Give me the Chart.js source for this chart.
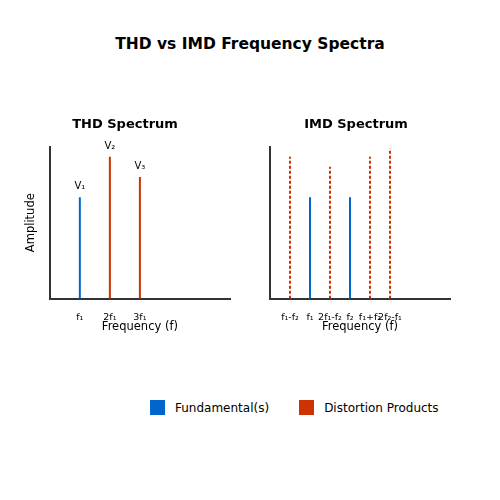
<!DOCTYPE html>
<html><head><meta charset="utf-8">
<script src="https://cdn.jsdelivr.net/npm/chart.js@4"></script>
<style>
body{margin:0;width:500px;height:500px;background:#fff;font-family:"DejaVu Sans",sans-serif;position:relative}
#title{position:absolute;top:35px;width:500px;text-align:center;font-weight:bold;font-size:15.5px}
.box{position:absolute;top:113px;width:225px;height:225px}
#legend{position:absolute;top:400px;left:150px;font-size:12px;display:flex;gap:30px}
#legend span.sw{display:inline-block;width:15px;height:15px;vertical-align:-3px;margin-right:10px}
</style></head><body>
<div id="title">THD vs IMD Frequency Spectra</div>
<div class="box" style="left:20px"><canvas id="thd"></canvas></div>
<div class="box" style="left:240px"><canvas id="imd"></canvas></div>
<div id="legend"><div><span class="sw" style="background:#0066cc"></span>Fundamental(s)</div><div><span class="sw" style="background:#cc3300"></span>Distortion Products</div></div>
<script>
const BLUE = '#0066cc', RED = '#cc3300';

const thdLabels = ['f₁', '2f₁', '3f₁'];
const thdPos = [1, 2, 3];
const thdValues = [0.667, 0.933, 0.8];
const thdAnnot = ['V₁', 'V₂', 'V₃'];
const thdFundamental = [true, false, false];

const imdLabels = ['f₁-f₂', 'f₁', '2f₁-f₂', 'f₂', 'f₁+f₂', '2f₂-f₁'];
const imdPos = [1, 2, 3, 4, 5, 6];
const imdValues = [0.933, 0.667, 0.867, 0.667, 0.933, 0.987];
const imdFundamental = [false, true, false, true, false, false];

const stemLabels = {
  id: 'stemLabels',
  afterDatasetsDraw(chart, args, opts) {
    if (!opts.texts) return;
    const { ctx } = chart;
    ctx.save();
    ctx.font = '10px "DejaVu Sans"';
    ctx.fillStyle = '#000';
    ctx.textAlign = 'center';
    opts.texts.forEach((t, i) => {
      const x = chart.scales.x.getPixelForValue(opts.pos[i]);
      const y = chart.scales.y.getPixelForValue(opts.values[i]);
      ctx.fillText(t, x, y - 8);
    });
    ctx.restore();
  }
};

function makeChart(id, title, labels, pos, values, fund, xmax, annot, showY, dashed) {
  const datasets = pos.map((p, i) => ({
    data: [{ x: p, y: 0 }, { x: p, y: values[i] }],
    borderColor: fund[i] ? BLUE : RED,
    borderWidth: 2,
    borderDash: (dashed && !fund[i]) ? [3, 2] : [],
    pointRadius: 0,
    showLine: true
  }));
  new Chart(document.getElementById(id), {
    type: 'scatter',
    data: { datasets },
    options: {
      animation: false,
      responsive: true,
      maintainAspectRatio: false,
      layout: { padding: { left: showY ? 0 : 22, right: 15 } },
      plugins: {
        legend: { display: false },
        tooltip: { enabled: false },
        title: { display: true, text: title, color: '#000', font: { size: 13, weight: 'bold', family: 'DejaVu Sans' }, padding: { top: 4, bottom: 14 } },
        stemLabels: annot ? { texts: annot, pos, values } : {}
      },
      scales: {
        x: {
          type: 'linear', min: 0, max: xmax,
          afterBuildTicks: s => { s.ticks = pos.map(v => ({ value: v })); },
          ticks: { autoSkip: false, maxRotation: 0, color: '#000', font: { size: 9.5, family: 'DejaVu Sans' }, padding: 5, callback: (v) => labels[pos.indexOf(v)] },
          grid: { display: false },
          border: { color: '#333', width: 2 },
          title: { display: true, text: 'Frequency (f)', color: '#000', font: { size: 11.5, family: 'DejaVu Sans' }, padding: { top: -8 } }
        },
        y: {
          min: 0, max: 1.0,
          ticks: { display: false },
          grid: { display: false },
          border: { color: '#333', width: 2 },
          title: { display: showY, text: 'Amplitude', color: '#000', font: { size: 11.5, family: 'DejaVu Sans' } }
        }
      }
    },
    plugins: [stemLabels]
  });
}

makeChart('thd', 'THD Spectrum', thdLabels, thdPos, thdValues, thdFundamental, 6, thdAnnot, true, false);
makeChart('imd', 'IMD Spectrum', imdLabels, imdPos, imdValues, imdFundamental, 9, null, false, true);
</script></body></html>
